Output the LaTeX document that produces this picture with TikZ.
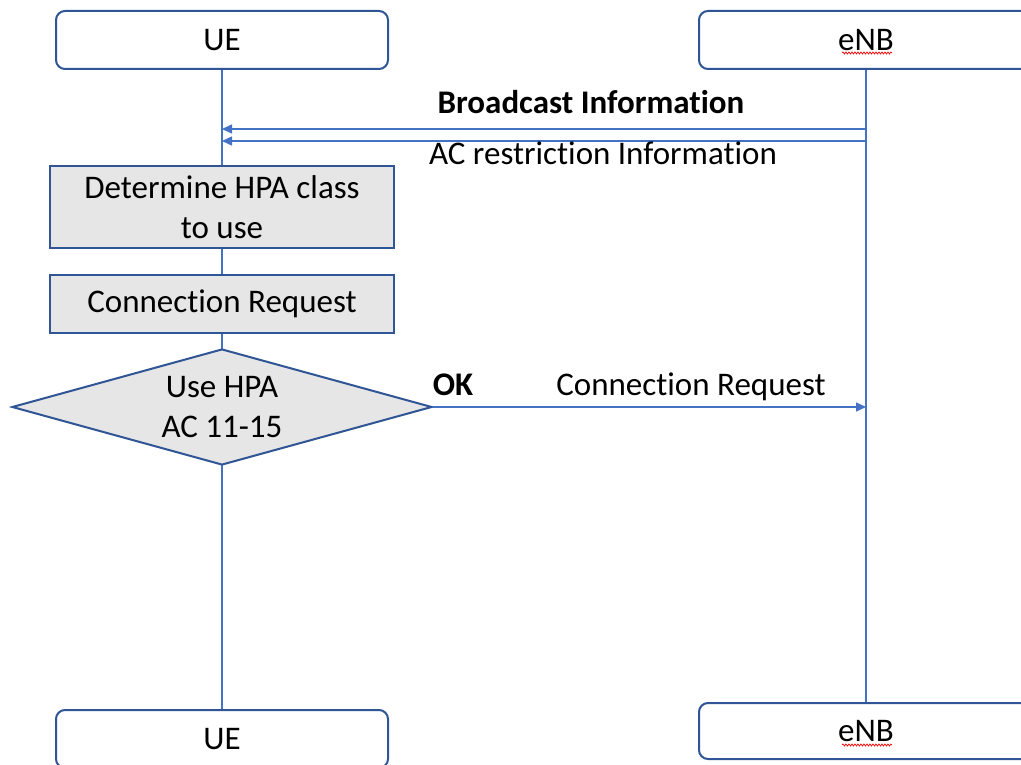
\documentclass[tikz,border=0pt]{standalone}
\usepackage{fontspec}
\setmainfont[Ligatures=NoCommon]{Carlito}
\usetikzlibrary{arrows.meta,shapes.geometric,decorations.pathmorphing}
\definecolor{lineblue}{HTML}{4472C4}
\definecolor{boxblue}{HTML}{2F5597}
\definecolor{boxgray}{HTML}{E7E6E6}
\begin{document}
\begin{tikzpicture}[x=1pt,y=-1pt,
  txt/.style={font=\fontsize{33}{40}\selectfont, text=black},
  entity/.style={txt, draw=boxblue, line width=2pt, rounded corners=9pt, fill=white,
    minimum width=332pt, minimum height=58pt, inner sep=0pt},
  procbox/.style={txt, draw=boxblue, line width=2pt, fill=boxgray,
    minimum width=344pt, inner sep=0pt, align=center},
  decide/.style={txt, draw=boxblue, line width=2pt, fill=boxgray, diamond, shape aspect=3.6,
    minimum width=420pt, minimum height=116pt, inner sep=0pt, align=center},
  life/.style={draw=lineblue, line width=1.5pt},
  msg/.style={draw=lineblue, line width=1.5pt, -{Triangle[length=10pt,width=9pt]}},
  lbl/.style={txt, inner sep=0pt},
  spell/.style={draw=red, line width=0.7pt, decorate, decoration={snake, amplitude=1pt, segment length=3pt}}
]
\useasboundingbox (0,0) rectangle (1021,765);
\clip (0,0) rectangle (1021,765);
\fill[white] (0,0) rectangle (1021,765);

% entity boxes
\node[entity] (ueT) at (222,40) {UE};
\node[entity, minimum width=334pt] (enbT) at (866,40) {eNB};
\node[entity] (ueB) at (222,739) {UE};
\node[entity, minimum width=334pt, minimum height=56pt] (enbB) at (866,731) {eNB};

% lifelines
\draw[life] (ueT) -- (ueB);
\draw[life] (enbT) -- (enbB);

% process boxes
\node[procbox, minimum height=82pt] (det) at (222,207) {Determine HPA class\\to use};
\node[procbox, minimum height=58pt] (creq) at (222,304) {Connection Request};
\node[decide] (dia) at (222,407) {Use HPA\\AC 11-15};

% messages
\coordinate (e1) at (866,129);
\coordinate (u1) at (222,129);
\coordinate (e2) at (866,141);
\coordinate (u2) at (222,141);
\coordinate (e3) at (866,407);
\draw[msg] (e1) -- (u1);
\draw[msg] (e2) -- (u2);
\draw[msg] (dia.east) -- (e3);

% labels
\node[lbl, font=\fontsize{33}{40}\selectfont\bfseries] (l1) at (591,102) {Broadcast Information};
\node[lbl] (l2) at (603,153) {AC restriction Information};
\node[lbl, font=\fontsize{33}{40}\selectfont\bfseries] (l3) at (453,385) {OK};
\node[lbl] (l4) at (691,387) {Connection Request};

% spell-check underlines
\draw[spell] (842,53) -- (892,53);
\draw[spell] (842,745) -- (892,745);
\end{tikzpicture}
\end{document}
